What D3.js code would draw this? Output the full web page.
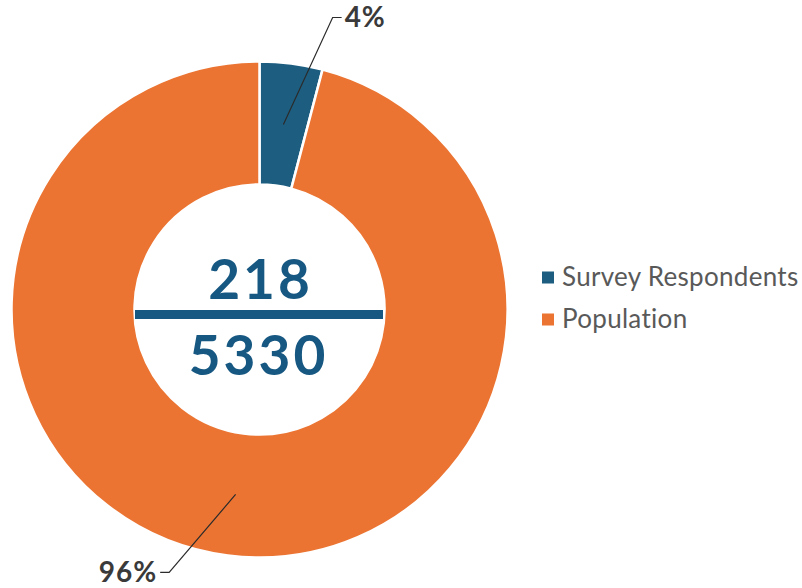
<!DOCTYPE html>
<html>
<head>
<meta charset="utf-8">
<script src="https://cdn.jsdelivr.net/npm/d3@7"></script>
<style>
  body { margin: 0; background: #fff; }
  svg { display: block; font-family: Lato, "Open Sans", sans-serif; }
</style>
</head>
<body>
<div class="donut-chart"></div>
<script>
// data
const categories = ["Survey Respondents", "Population"];
const counts = [218, 5112];          // slice values, sum = population total
const respondents = 218;
const population = 5330;
const colors = ["#1d5e80", "#eb7432"];

const width = 802;
const height = 588;
const cx = 259.5, cy = 309.5;
const outerR = 248, innerR = 125;

const svg = d3.select(".donut-chart")
    .append("svg")
    .attr("width", width)
    .attr("height", height);

const g = svg.append("g")
    .attr("transform", `translate(${cx},${cy})`);

const pie = d3.pie().sort(null).value(d => d.value);
const data = categories.map((c, i) => ({name: c, value: counts[i], color: colors[i]}));
const arcs = pie(data);
const total = d3.sum(counts);

const arc = d3.arc().innerRadius(innerR).outerRadius(outerR);
const midArc = d3.arc().innerRadius((innerR + outerR) / 2).outerRadius((innerR + outerR) / 2);

g.selectAll("path.slice")
    .data(arcs)
    .enter()
    .append("path")
    .attr("class", "slice")
    .attr("d", arc)
    .attr("fill", d => d.data.color)
    .attr("stroke", "white")
    .attr("stroke-width", 2.5);

// leader lines: angle nudge (deg) and radius for the elbow point
const leader = [{da: 6.7, r: 301, side: 1}, {da: 11.6, r: 278, side: -1}];

arcs.forEach((d, i) => {
    const [x0, y0] = midArc.centroid(d);
    const a = (d.startAngle + d.endAngle) / 2 + leader[i].da * Math.PI / 180;
    const x1 = Math.sin(a) * leader[i].r;
    const y1 = -Math.cos(a) * leader[i].r;
    const x2 = x1 + leader[i].side * 9;
    g.append("polyline")
        .attr("points", [[x0, y0], [x1, y1], [x2, y1]].map(p => p.join(",")).join(" "))
        .attr("fill", "none")
        .attr("stroke", "#2b2b2b")
        .attr("stroke-width", 1.2);
    g.append("text")
        .attr("x", x2 + leader[i].side * 3)
        .attr("y", y1)
        .attr("dy", "0.35em")
        .attr("text-anchor", leader[i].side > 0 ? "start" : "end")
        .attr("font-size", 28)
        .attr("font-weight", "bold")
        .attr("letter-spacing", 1)
        .attr("fill", "#3a3a3a")
        .text(Math.round(d.value / total * 100) + "%");
});

// centre fraction
const blue = "#175882";
g.append("text")
    .attr("x", 1)
    .attr("y", -11)
    .attr("text-anchor", "middle")
    .attr("font-size", 55)
    .attr("font-weight", "bold")
    .attr("letter-spacing", 3)
    .attr("fill", blue)
    .text(respondents);

g.append("line")
    .attr("x1", -124.5)
    .attr("x2", 123.5)
    .attr("y1", 5)
    .attr("y2", 5)
    .attr("stroke", blue)
    .attr("stroke-width", 9);

g.append("text")
    .attr("x", -1)
    .attr("y", 65)
    .attr("text-anchor", "middle")
    .attr("font-size", 55)
    .attr("font-weight", "bold")
    .attr("letter-spacing", 3)
    .attr("fill", blue)
    .text(population);

// legend
const legend = svg.append("g")
    .attr("transform", "translate(542,277)");

const item = legend.selectAll("g")
    .data(data)
    .enter()
    .append("g")
    .attr("transform", (d, i) => `translate(0,${i * 42})`);

item.append("rect")
    .attr("x", 0)
    .attr("y", -5.5)
    .attr("width", 12)
    .attr("height", 12)
    .attr("fill", d => d.color);

item.append("text")
    .attr("x", 20)
    .attr("y", 0)
    .attr("dy", "0.35em")
    .attr("font-size", 26)
    .attr("letter-spacing", 0.3)
    .attr("fill", "#595959")
    .text(d => d.name);
</script>
</body>
</html>
